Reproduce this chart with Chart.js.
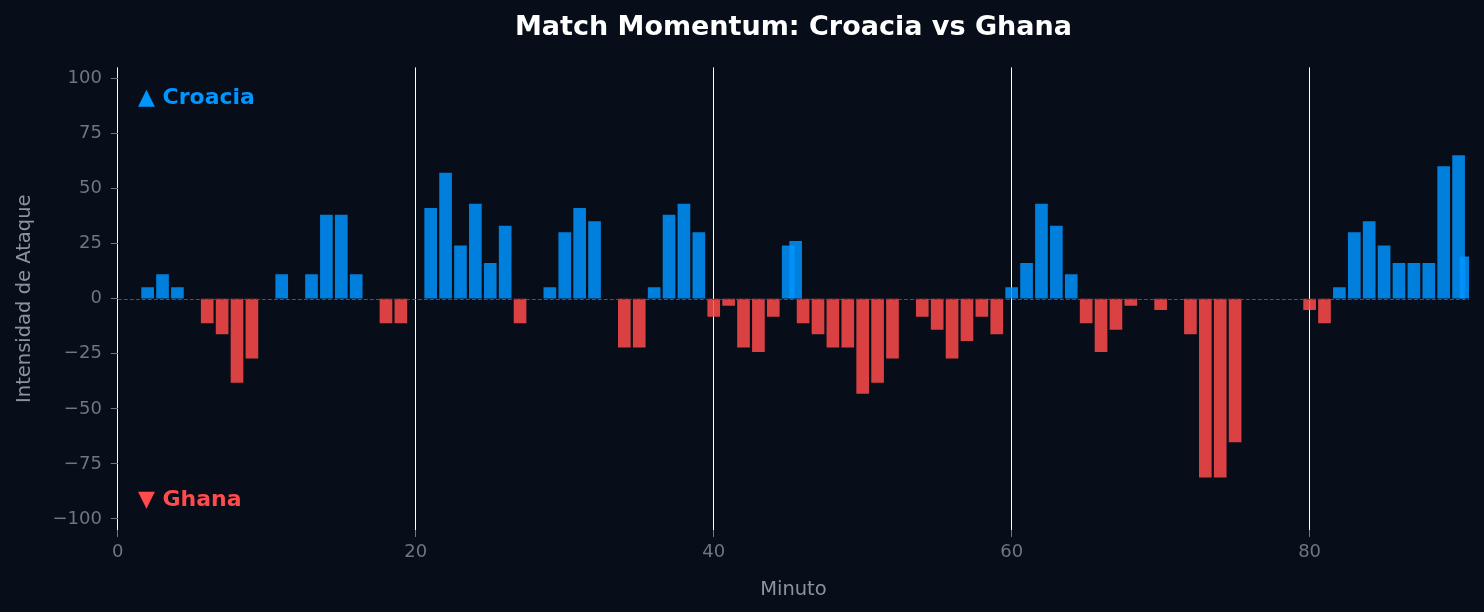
<!DOCTYPE html>
<html>
<head>
<meta charset="utf-8">
<title>Match Momentum</title>
<script src="https://cdn.jsdelivr.net/npm/chart.js@4/dist/chart.umd.min.js"></script>
<style>
  html, body { margin: 0; padding: 0; background: #070d19; }
  #caja { width: 1484px; height: 612px; }
</style>
</head>
<body>
<div id="caja"><canvas id="grafico"></canvas></div>
<script>
// Datos (minuto y intensidad; + Croacia, - Ghana)
const minutos = [
  1, 2, 3, 4, 5, 6, 7, 8, 9, 10,
  11, 12, 13, 14, 15, 16, 17, 18, 19, 20,
  21, 22, 23, 24, 25, 26, 27, 28, 29, 30,
  31, 32, 33, 34, 35, 36, 37, 38, 39, 40,
  41, 42, 43, 44, 45, 45.5, 46, 47, 48, 49, 50,
  51, 52, 53, 54, 55, 56, 57, 58, 59, 60,
  61, 62, 63, 64, 65, 66, 67, 68, 69, 70,
  71, 72, 73, 74, 75, 76, 77, 78, 79, 80,
  81, 82, 83, 84, 85, 86, 87, 88, 89, 90, 90.5
];
const intensidad = [
  0, 5, 11, 5, 0, -11, -16, -38, -27, 0,
  11, 0, 11, 38, 38, 11, 0, -11, -11, 0,
  41, 57, 24, 43, 16, 33, -11, 0, 5, 30,
  41, 35, 0, -22, -22, 5, 38, 43, 30, -8,
  -3, -22, -24, -8, 24, 26, -11, -16, -22, -22, -43,
  -38, -27, 0, -8, -14, -27, -19, -8, -16, 5,
  16, 43, 33, 11, -11, -24, -14, -3, 0, -5,
  0, -16, -81, -81, -65, 0, 0, 0, 0, -5,
  -11, 5, 30, 35, 24, 16, 16, 16, 60, 65, 19
];
const ticksX = [0, 20, 40, 60, 80];
const ticksY = [-100, -75, -50, -25, 0, 25, 50, 75, 100];

const equipoArriba = '▲ Croacia';
const equipoAbajo = '▼ Ghana';

const colorCroacia = 'rgba(0, 148, 255, 0.85)';
const colorGhana = 'rgba(255, 75, 75, 0.85)';
const gris = '#6e7681';

// Línea del cero y nombres de los equipos
const capaExtra = {
  id: 'capaExtra',
  afterDatasetsDraw(chart) {
    const { ctx, chartArea, scales: { x, y } } = chart;
    ctx.save();
    const y0 = Math.round(y.getPixelForValue(0)) + 0.5;
    ctx.strokeStyle = '#4b5360';
    ctx.lineWidth = 1;
    ctx.setLineDash([4, 2]);
    ctx.beginPath();
    ctx.moveTo(chartArea.left, y0);
    ctx.lineTo(chartArea.right, y0);
    ctx.stroke();
    ctx.setLineDash([]);

    ctx.font = 'bold 22px "DejaVu Sans"';
    ctx.textBaseline = 'middle';
    ctx.textAlign = 'left';
    ctx.fillStyle = '#0096ff';
    ctx.fillText(equipoArriba, x.getPixelForValue(1.35), y.getPixelForValue(91));
    ctx.fillStyle = '#ff4b4b';
    ctx.fillText(equipoAbajo, x.getPixelForValue(1.35), y.getPixelForValue(-91.5));
    ctx.restore();
  }
};

// Los minutos sin ataque (0) no se dibujan
const puntos = minutos
  .map((m, i) => ({ x: m, y: intensidad[i] }))
  .filter(p => p.y !== 0);

const ctx = document.getElementById('grafico').getContext('2d');
new Chart(ctx, {
  type: 'bar',
  data: {
    datasets: [{
      data: puntos,
      backgroundColor: (c) => (c.raw && c.raw.y < 0 ? colorGhana : colorCroacia),
      borderWidth: 0,
      barThickness: 12
    }]
  },
  options: {
    responsive: true,
    maintainAspectRatio: false,
    animation: false,
    layout: { padding: { left: 13, right: 15, top: 0, bottom: 10 } },
    plugins: {
      legend: { display: false },
      tooltip: { enabled: false },
      title: {
        display: true,
        fullSize: false,
        text: 'Match Momentum: Croacia vs Ghana',
        color: '#ffffff',
        font: { family: 'DejaVu Sans', size: 27, weight: 'bold' },
        padding: { top: 12, bottom: 23 }
      }
    },
    scales: {
      x: {
        type: 'linear',
        min: 0,
        max: 90.7,
        offset: false,
        grid: { offset: false, color: '#ffffff', lineWidth: 1, tickColor: gris, tickLength: 7 },
        border: { display: false },
        afterBuildTicks: (s) => { s.ticks = ticksX.map(v => ({ value: v })); },
        ticks: { color: gris, font: { family: 'DejaVu Sans', size: 18 }, padding: 5, maxRotation: 0 },
        title: {
          display: true, text: 'Minuto', color: '#8b949e',
          font: { family: 'DejaVu Sans', size: 19.5 }, padding: { top: 10, bottom: 0 }
        }
      },
      y: {
        min: -105,
        max: 105,
        grid: { drawOnChartArea: false, tickColor: gris, tickLength: 7 },
        border: { display: false },
        afterBuildTicks: (s) => { s.ticks = ticksY.map(v => ({ value: v })); },
        ticks: {
          color: gris,
          font: { family: 'DejaVu Sans', size: 18 },
          padding: 9,
          callback: (v) => String(v).replace('-', '\u2212')
        },
        title: {
          display: true, text: 'Intensidad de Ataque', color: '#8b949e',
          font: { family: 'DejaVu Sans', size: 19.5 }, padding: { top: 0, bottom: 7 }
        }
      }
    }
  },
  plugins: [capaExtra]
});
</script>
</body>
</html>
